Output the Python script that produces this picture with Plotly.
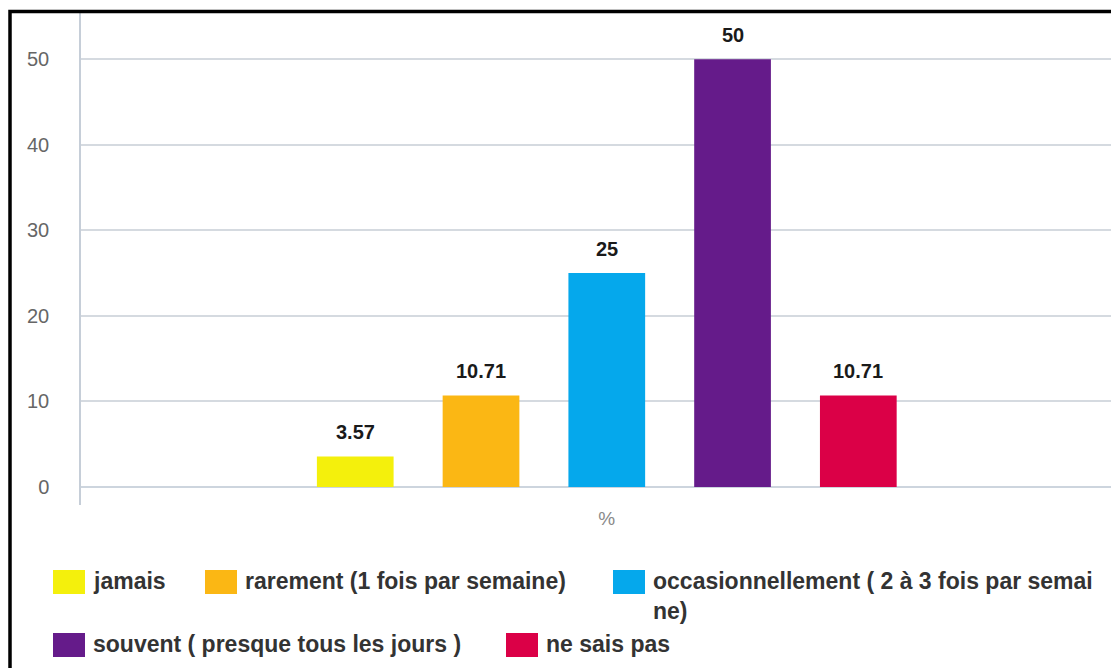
import plotly.graph_objects as go

# Survey answers: share of respondents (%) per frequency
categories = ["%"]
series_names = [
    "jamais",
    "rarement (1 fois par semaine)",
    "occasionnellement ( 2 à 3 fois par semai<br>ne)",
    "souvent ( presque tous les jours )",
    "ne sais pas",
]
series_values = [3.57, 10.71, 25, 50, 10.71]
series_colors = ["#f4f00c", "#fbb714", "#05a8ec", "#651b8a", "#db0047"]
y_ticks = [0, 10, 20, 30, 40, 50]

W, H = 1111, 668
ML, MR, MT, MB = 81, 0, 13, 163
PW, PH = W - ML - MR, H - MT - MB

BARGAP = 0.402
BARGROUPGAP = 0.39
FONT = "Liberation Sans, Arial, sans-serif"


def px(x):
    """pixel column -> paper x"""
    return (x - ML) / PW


def py(y):
    """pixel row -> paper y"""
    return (H - MB - y) / PH


fig = go.Figure()
n = len(series_values)
slot = (1 - BARGAP) / n
for i, (name, val, col) in enumerate(zip(series_names, series_values, series_colors)):
    fig.add_trace(go.Bar(
        x=categories, y=[val], name=name,
        marker=dict(color=col, line=dict(width=0)),
        showlegend=False,
    ))
    # value label above each bar
    fig.add_annotation(
        x=(i - (n - 1) / 2) * slot, y=val, xref="x", yref="y",
        text=f"<b>{val:g}</b>", showarrow=False,
        yanchor="bottom", yshift=11,
        font=dict(family=FONT, size=20, color="#1a1a1a"),
    )

# legend drawn as swatches + labels (two rows)
legend_items = [
    (53, 582), (205, 582), (613, 582),
    (53, 645), (506, 645),
]
shapes = []
for (sx, cy), name, col in zip(legend_items, series_names, series_colors):
    shapes.append(dict(
        type="rect", xref="paper", yref="paper",
        x0=px(sx), x1=px(sx + 32), y0=py(cy + 12), y1=py(cy - 12),
        fillcolor=col, line=dict(width=0), layer="above",
    ))
    fig.add_annotation(
        x=px(sx + 39), y=py(cy - 15), xref="paper", yref="paper",
        text=f"<b>{name}</b>", showarrow=False, xanchor="left", yanchor="top", align="left",
        font=dict(family=FONT, size=23, color="#333333"),
        borderpad=0,
    )

# outer frame (top and left edges visible)
shapes.append(dict(
    type="rect", xref="paper", yref="paper",
    x0=px(10), x1=px(W + 20), y0=py(H + 20), y1=py(11.5),
    line=dict(color="black", width=3.5), fillcolor="rgba(0,0,0,0)", layer="above",
))

fig.update_layout(
    width=W, height=H,
    margin=dict(l=ML, r=MR, t=MT, b=MB, pad=0),
    paper_bgcolor="white", plot_bgcolor="white",
    barmode="group", bargap=BARGAP, bargroupgap=BARGROUPGAP,
    showlegend=False,
    shapes=shapes,
    font=dict(family=FONT),
    xaxis=dict(
        type="category", range=[-0.5, 0.4795],
        showgrid=False, showline=False, zeroline=False, ticks="",
        tickfont=dict(size=19, color="#8a8a8a"),
        ticklabelstandoff=0,
    ),
    yaxis=dict(
        range=[-2.1, 55.4], tickvals=y_ticks,
        showgrid=True, gridcolor="#d5dae0", gridwidth=1.5,
        zeroline=True, zerolinecolor="#cdd5de", zerolinewidth=1.5,
        showline=True, linecolor="#c6ced8", linewidth=1.5,
        ticks="", tickfont=dict(size=20, color="#666666"),
        ticklabelstandoff=26,
    ),
)

fig.write_html("out.html")
